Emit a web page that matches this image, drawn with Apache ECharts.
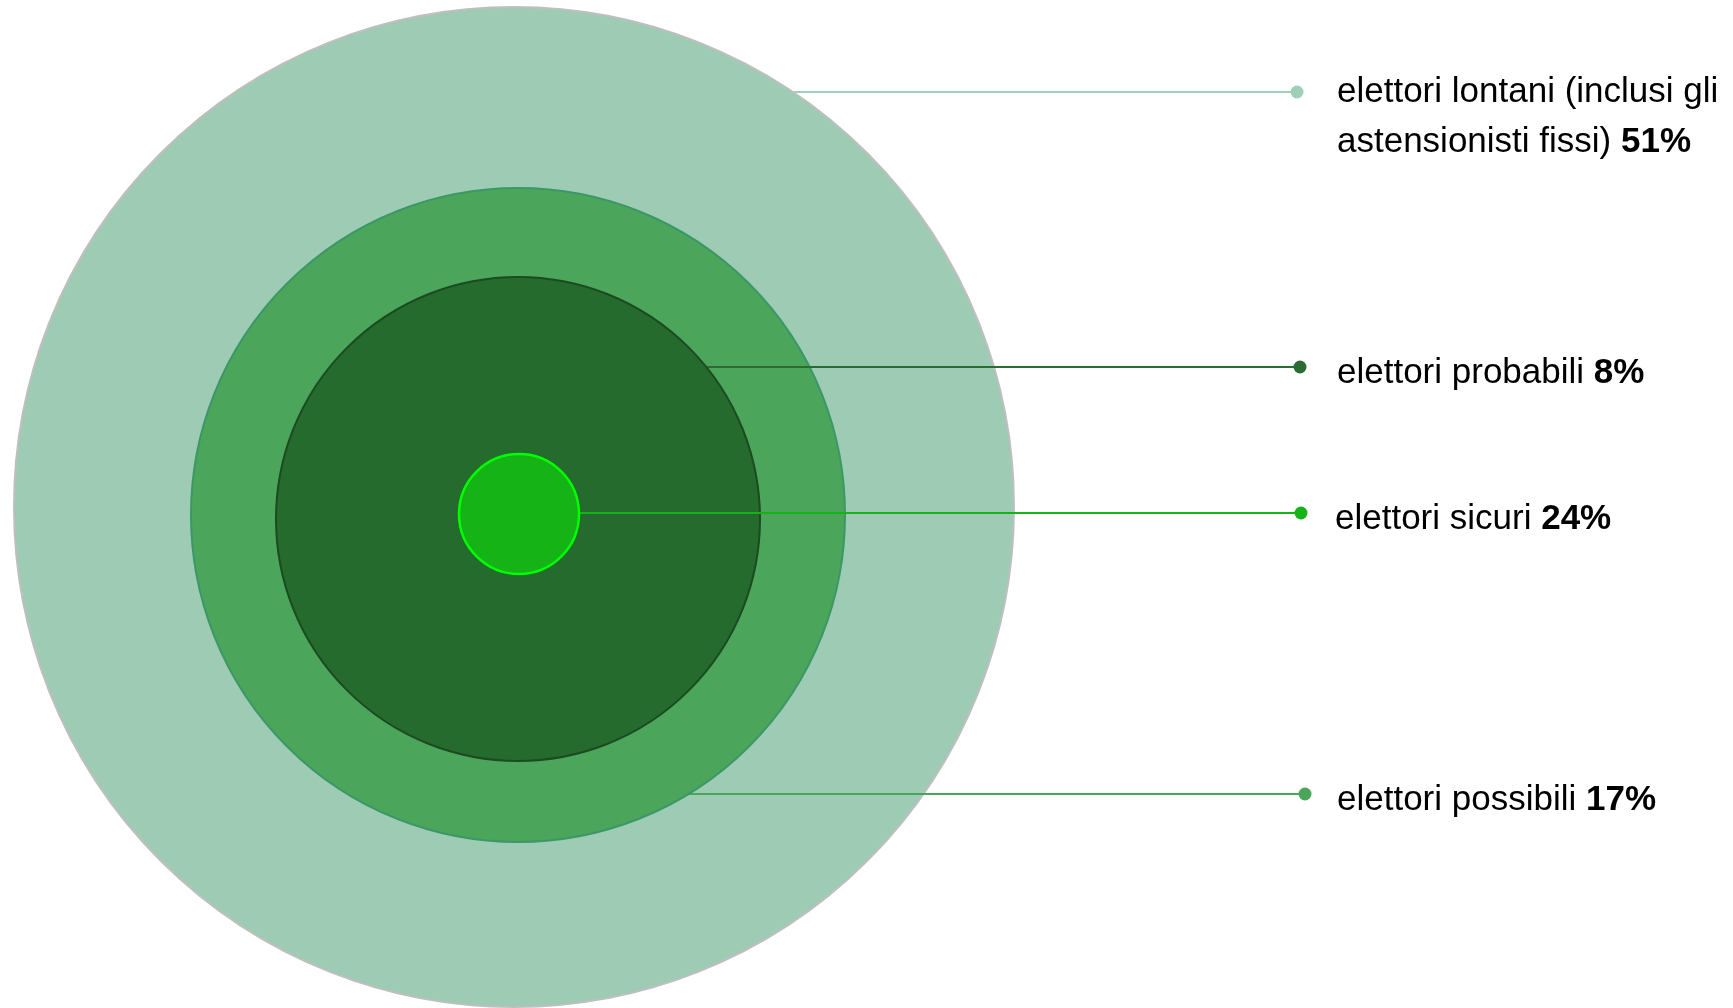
<!DOCTYPE html>
<html>
<head>
<meta charset="utf-8">
<script src="https://cdn.jsdelivr.net/npm/echarts@6/dist/echarts.min.js"></script>
<style>
html,body{margin:0;padding:0;background:#fff;}
#main{width:1733px;height:1008px;}
</style>
</head>
<body>
<div id="main"></div>
<script>
// ---- data ----
const categories = ['elettori lontani (inclusi gli\nastensionisti fissi)', 'elettori possibili', 'elettori probabili', 'elettori sicuri'];
const values = [51, 17, 8, 24];

// ---- layout / style (not data) ----
const FONT = "'Liberation Sans', Arial, sans-serif";
const layout = [
  { z: 1, cx: 514, cy: 507, r: 500, fill: '#9dcbb4', border: '#bfbfbf', bw: 2,   line: '#a0cfb7', lineY: 92,  dotX: 1297, textX: 1337, textY: 117 },
  { z: 2, cx: 518, cy: 515, r: 327, fill: '#4ba65c', border: '#3b9866', bw: 2,   line: '#4ba65c', lineY: 794, dotX: 1305, textX: 1337, textY: 800 },
  { z: 3, cx: 518, cy: 519, r: 242, fill: '#256b2e', border: '#1c4a21', bw: 2,   line: '#2a6c32', lineY: 367, dotX: 1300, textX: 1337, textY: 373 },
  { z: 4, cx: 519, cy: 514, r: 60,  fill: '#16b316', border: '#00ff00', bw: 2.5, line: '#16b316', lineY: 513, dotX: 1301, textX: 1335, textY: 519 }
];

function fmt(name, value) {
  const lines = name.split('\n');
  const last = lines.pop();
  const head = lines.map(l => '{n|' + l + '}').join('\n');
  return (head ? head + '\n' : '') + '{n|' + last + ' }{b|' + value + '%}';
}

const series = categories.map((name, i) => {
  const L = layout[i];
  const dy = L.lineY - L.cy;
  const startX = L.cx + Math.sqrt(Math.max(0, L.r * L.r - dy * dy));
  return {
    type: 'pie',
    z: L.z,
    silent: true,
    animation: false,
    center: [L.cx, L.cy],
    radius: [0, L.r],
    avoidLabelOverlap: false,
    startAngle: 90,
    data: [{ name: name, value: values[i] }],
    itemStyle: { color: L.fill, borderColor: L.border, borderWidth: L.bw },
    label: {
      show: true,
      position: 'outside',
      formatter: p => fmt(p.name, p.value),
      rich: {
        n: { fontFamily: FONT, fontSize: 35, color: '#000', lineHeight: 50 },
        b: { fontFamily: FONT, fontSize: 35, fontWeight: 'bold', color: '#000', lineHeight: 50 }
      }
    },
    labelLine: { show: true, lineStyle: { color: L.line, width: 2 } },
    labelLayout: function () {
      return {
        x: L.textX,
        y: L.textY,
        align: 'left',
        verticalAlign: 'middle',
        labelLinePoints: [[startX, L.lineY], [L.dotX, L.lineY], [L.dotX, L.lineY]]
      };
    }
  };
});

const dots = layout.map(L => ({
  type: 'circle',
  shape: { cx: L.dotX, cy: L.lineY, r: 6.5 },
  style: { fill: L.line },
  silent: true,
  z: 10
}));

const chart = echarts.init(document.getElementById('main'), null, { renderer: 'canvas' });
chart.setOption({
  backgroundColor: '#ffffff',
  animation: false,
  series: series,
  graphic: dots
});
</script>
</body>
</html>
